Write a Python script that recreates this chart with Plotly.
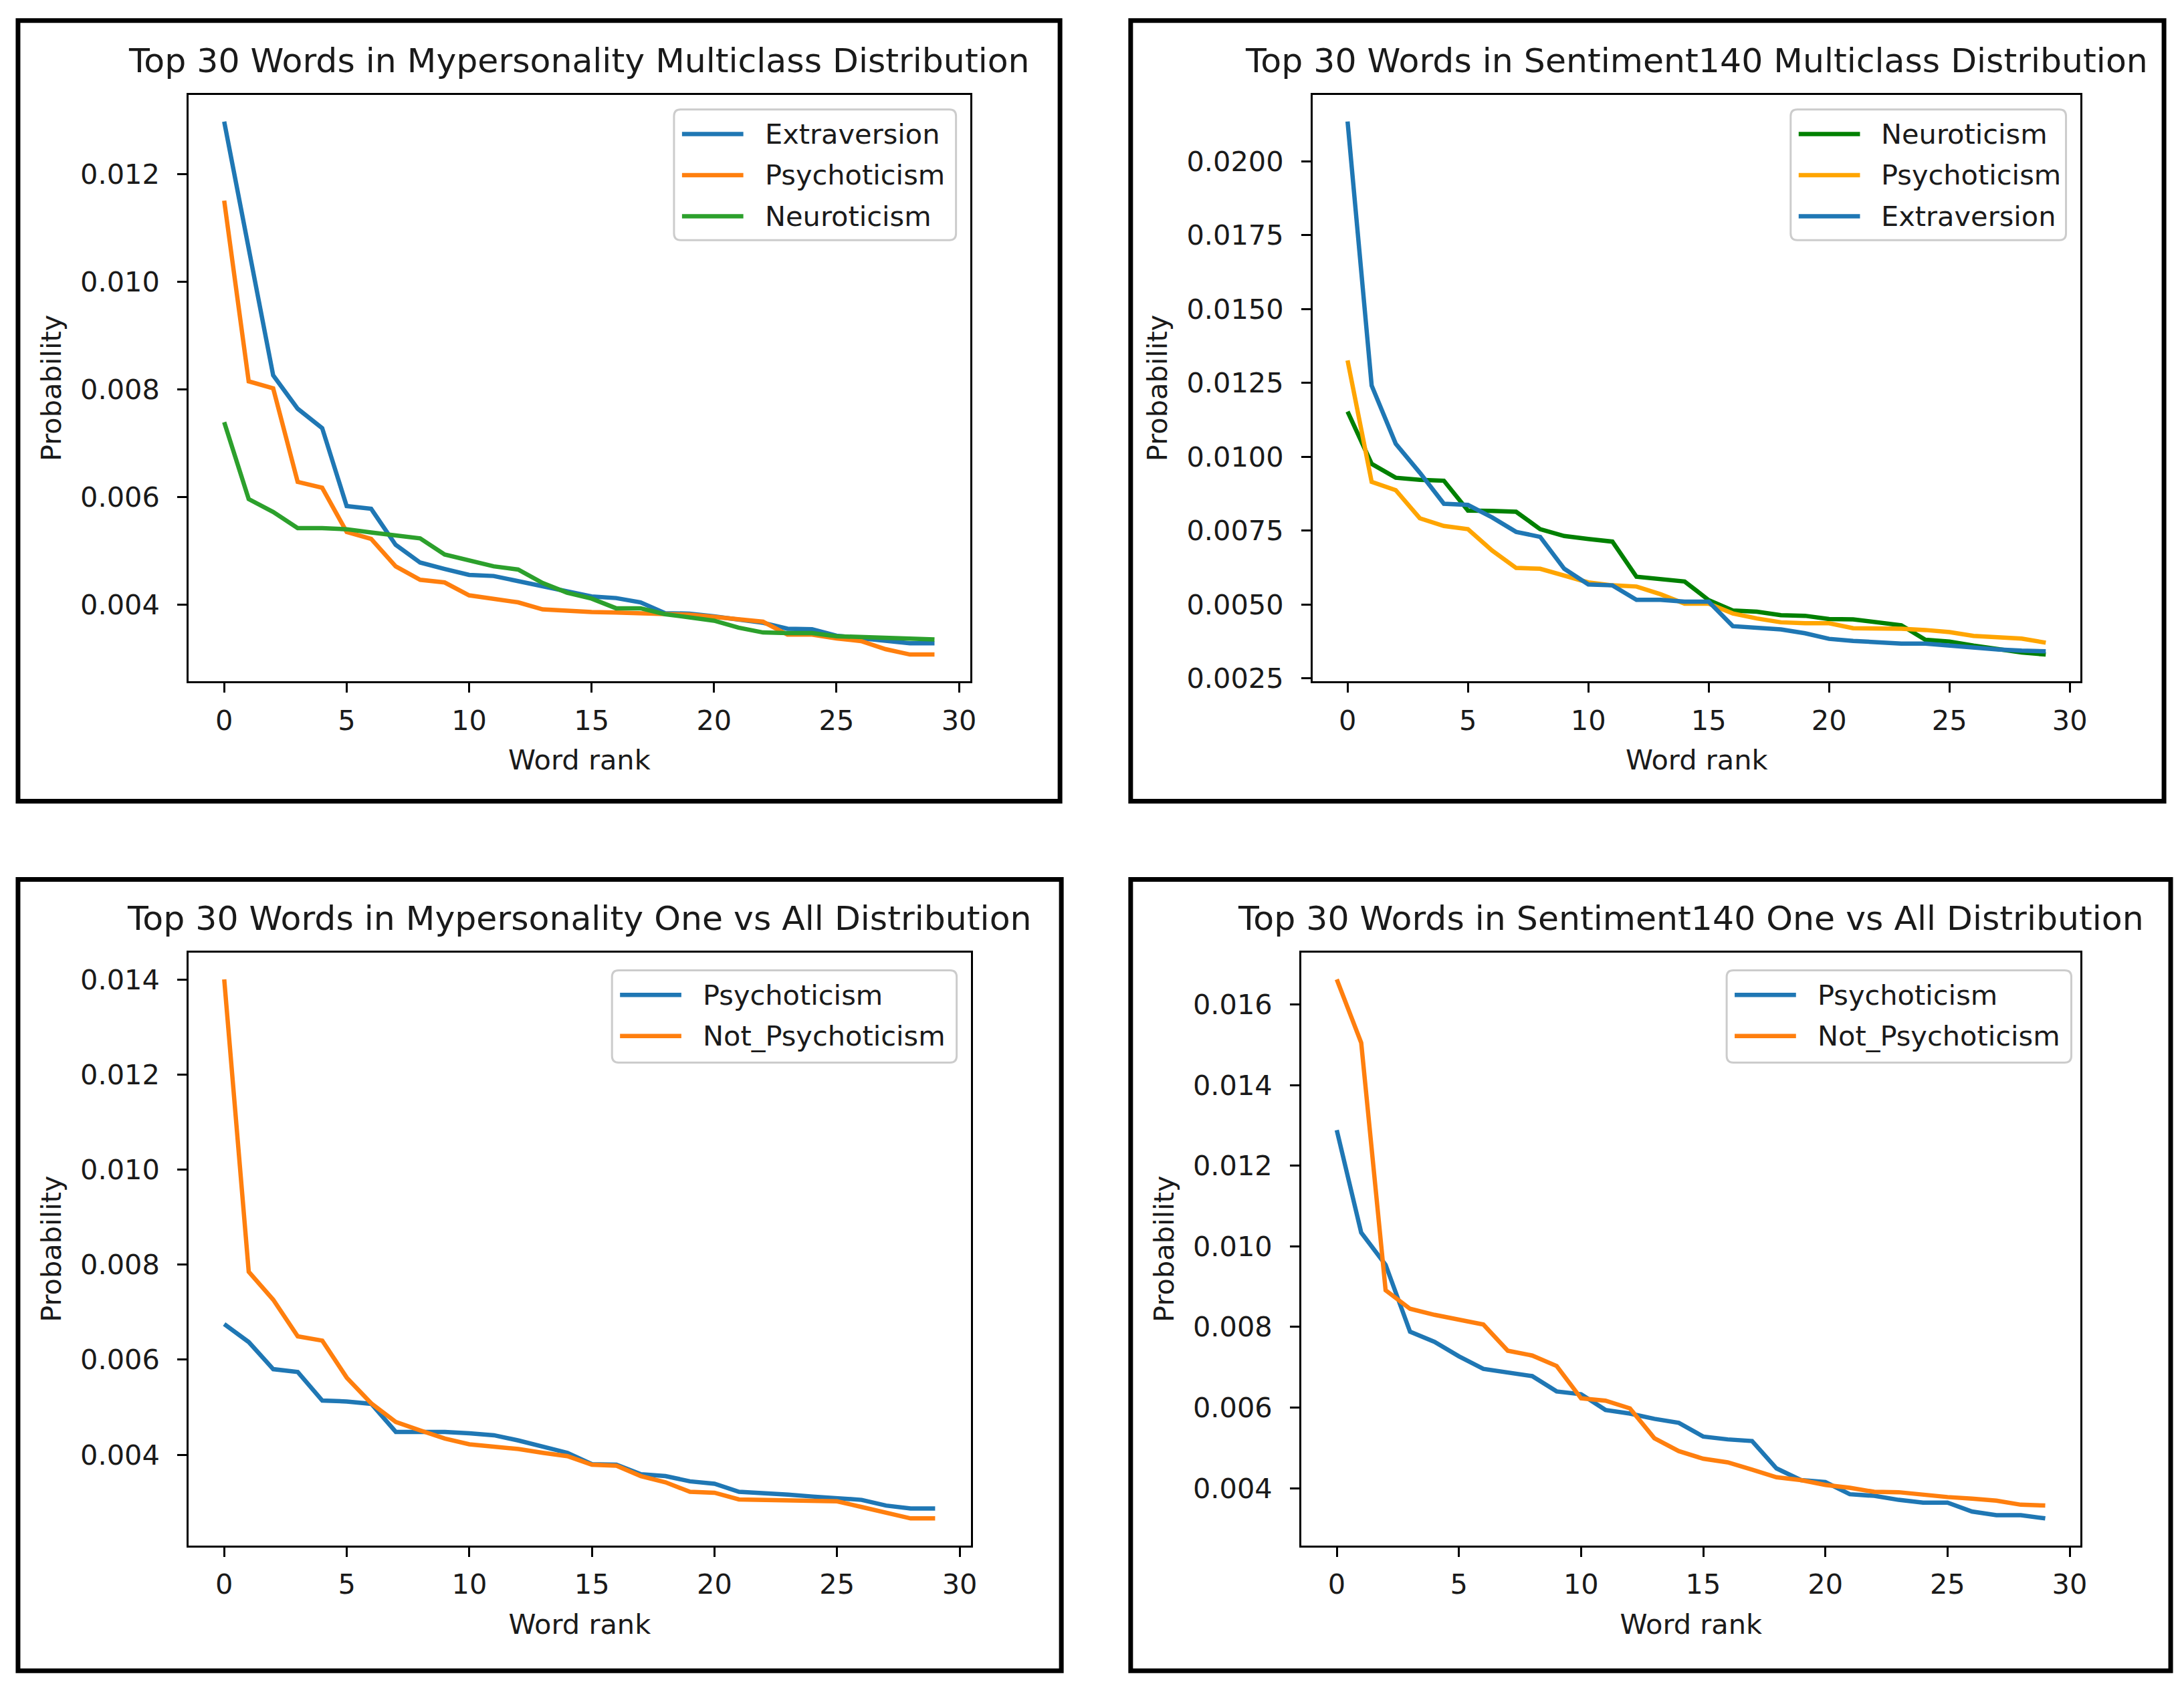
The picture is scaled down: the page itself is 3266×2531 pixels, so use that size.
import plotly.graph_objects as go

# ---------------- data ----------------
rank = list(range(30))
x_ticks = [0, 5, 10, 15, 20, 25, 30]

titles = [
    "Top 30 Words in Mypersonality Multiclass Distribution",
    "Top 30 Words in Sentiment140 Multiclass Distribution",
    "Top 30 Words in Mypersonality One vs All Distribution",
    "Top 30 Words in Sentiment140 One vs All Distribution",
]
x_label = "Word rank"
y_label = "Probability"

# Panel 1: Mypersonality multiclass
mp_extraversion = [0.01298, 0.01060, 0.00826, 0.00764, 0.00728, 0.00583, 0.00578, 0.00511, 0.00478, 0.00466,
                   0.00455, 0.00453, 0.00444, 0.00435, 0.00424, 0.00415, 0.00412, 0.00404, 0.00384, 0.00383,
                   0.00378, 0.00373, 0.00366, 0.00355, 0.00354, 0.00342, 0.00337, 0.00333, 0.00328, 0.00328]
mp_psychoticism = [0.01151, 0.00815, 0.00802, 0.00628, 0.00617, 0.00535, 0.00522, 0.00471, 0.00446, 0.00441,
                   0.00417, 0.00410, 0.00404, 0.00391, 0.00388, 0.00386, 0.00385, 0.00384, 0.00383, 0.00381,
                   0.00377, 0.00373, 0.00368, 0.00344, 0.00344, 0.00337, 0.00332, 0.00317, 0.00307, 0.00307]
mp_neuroticism = [0.00739, 0.00596, 0.00572, 0.00542, 0.00542, 0.00540, 0.00534, 0.00529, 0.00523, 0.00493,
                  0.00482, 0.00471, 0.00465, 0.00440, 0.00422, 0.00411, 0.00393, 0.00393, 0.00382, 0.00377,
                  0.00370, 0.00357, 0.00348, 0.00347, 0.00347, 0.00341, 0.00339, 0.00337, 0.00336, 0.00335]

# Panel 2: Sentiment140 multiclass
s140_neuroticism = [0.01153, 0.00976, 0.00929, 0.00922, 0.00919, 0.00818, 0.00817, 0.00814, 0.00755, 0.00732,
                    0.00722, 0.00713, 0.00594, 0.00587, 0.00578, 0.00515, 0.00480, 0.00476, 0.00464, 0.00462,
                    0.00451, 0.00450, 0.00440, 0.00430, 0.00381, 0.00375, 0.00361, 0.00348, 0.00338, 0.00331]
s140_psychoticism = [0.01326, 0.00915, 0.00887, 0.00792, 0.00766, 0.00755, 0.00683, 0.00624, 0.00621, 0.00598,
                     0.00575, 0.00565, 0.00561, 0.00535, 0.00503, 0.00503, 0.00470, 0.00453, 0.00440, 0.00437,
                     0.00437, 0.00420, 0.00420, 0.00418, 0.00414, 0.00407, 0.00394, 0.00388, 0.00385, 0.00371]
s140_extraversion = [0.02134, 0.01241, 0.01044, 0.00946, 0.00841, 0.00837, 0.00795, 0.00746, 0.00729, 0.00621,
                     0.00568, 0.00565, 0.00516, 0.00516, 0.00510, 0.00510, 0.00427, 0.00420, 0.00416, 0.00403,
                     0.00384, 0.00377, 0.00372, 0.00368, 0.00368, 0.00361, 0.00355, 0.00348, 0.00344, 0.00342]

# Panel 3: Mypersonality one vs all
ova_mp_psychoticism = [0.00675, 0.00637, 0.00580, 0.00574, 0.00514, 0.00512, 0.00507, 0.00448, 0.00448, 0.00448,
                       0.00445, 0.00441, 0.00430, 0.00418, 0.00404, 0.00380, 0.00379, 0.00359, 0.00355, 0.00344,
                       0.00339, 0.00322, 0.00320, 0.00316, 0.00312, 0.00309, 0.00305, 0.00293, 0.00287, 0.00287]
ova_mp_not_psychoticism = [0.01400, 0.00785, 0.00726, 0.00649, 0.00640, 0.00562, 0.00508, 0.00469, 0.00451, 0.00434,
                           0.00422, 0.00418, 0.00412, 0.00404, 0.00397, 0.00379, 0.00377, 0.00355, 0.00342, 0.00322,
                           0.00320, 0.00306, 0.00305, 0.00305, 0.00304, 0.00302, 0.00290, 0.00277, 0.00266, 0.00266]

# Panel 4: Sentiment140 one vs all
ova_s140_psychoticism = [0.01288, 0.01034, 0.00954, 0.00788, 0.00763, 0.00727, 0.00696, 0.00686, 0.00678, 0.00640,
                         0.00633, 0.00594, 0.00585, 0.00572, 0.00562, 0.00528, 0.00521, 0.00517, 0.00449, 0.00420,
                         0.00415, 0.00385, 0.00381, 0.00371, 0.00364, 0.00364, 0.00342, 0.00333, 0.00333, 0.00325]
ova_s140_not_psychoticism = [0.01662, 0.01505, 0.00891, 0.00845, 0.00830, 0.00819, 0.00806, 0.00741, 0.00729, 0.00703,
                             0.00623, 0.00617, 0.00598, 0.00524, 0.00492, 0.00473, 0.00464, 0.00446, 0.00427, 0.00420,
                             0.00408, 0.00401, 0.00391, 0.00390, 0.00383, 0.00378, 0.00374, 0.00369, 0.00359, 0.00357]

# ---------------- styling / layout ----------------
W, H = 3266, 2531
FONT = "DejaVu Sans"
TC = "#1a1a1a"
FS = 41.5      # tick / label / legend text
FS_TITLE = 50.5

C_BLUE = "#1f77b4"
C_ORANGE = "#ff7f0e"
C_GREEN = "#2ca02c"
C_DKGREEN = "#008000"
C_GOLD = "#ffa500"


def px(x):
    return x / W


def py(y):
    return 1 - y / H


# plot areas in page pixels: (left, right, top, bottom)
areas = [
    (275, 1447, 135, 1019),
    (1961, 3113, 135, 1019),
    (275, 1448, 1428, 2322),
    (1944, 3113, 1428, 2322),
]
# outer frames (left, right, top, bottom)
frames = [
    (19, 1582, 23, 1200),
    (1688, 3238, 23, 1200),
    (19, 1584, 1318, 2511),
    (1688, 3248, 1318, 2511),
]
# legend boxes (left, right, top, bottom)
legend_boxes = [
    (1003, 1426, 157, 354),
    (2678, 3091, 157, 354),
    (910, 1427, 1455, 1594),
    (2582, 3099, 1455, 1594),
]

panels = [
    [("Extraversion", mp_extraversion, C_BLUE),
     ("Psychoticism", mp_psychoticism, C_ORANGE),
     ("Neuroticism", mp_neuroticism, C_GREEN)],
    [("Neuroticism", s140_neuroticism, C_DKGREEN),
     ("Psychoticism", s140_psychoticism, C_GOLD),
     ("Extraversion", s140_extraversion, C_BLUE)],
    [("Psychoticism", ova_mp_psychoticism, C_BLUE),
     ("Not_Psychoticism", ova_mp_not_psychoticism, C_ORANGE)],
    [("Psychoticism", ova_s140_psychoticism, C_BLUE),
     ("Not_Psychoticism", ova_s140_not_psychoticism, C_ORANGE)],
]
y_dticks = [0.002, 0.0025, 0.002, 0.002]
y_formats = [".3f", ".4f", ".3f", ".3f"]


def rounded_rect_path(l, r, t, b, rad):
    x0, x1 = px(l), px(r)
    y0, y1 = py(t), py(b)
    rx, ry = rad / W, rad / H
    return (f"M {x0 + rx},{y0} L {x1 - rx},{y0} Q {x1},{y0} {x1},{y0 - ry} "
            f"L {x1},{y1 + ry} Q {x1},{y1} {x1 - rx},{y1} L {x0 + rx},{y1} "
            f"Q {x0},{y1} {x0},{y1 + ry} L {x0},{y0 - ry} Q {x0},{y0} {x0 + rx},{y0} Z")


fig = go.Figure()
layout = dict(
    width=W, height=H, autosize=False,
    margin=dict(l=0, r=0, t=0, b=0),
    paper_bgcolor="white", plot_bgcolor="white",
    font=dict(family=FONT, size=FS, color=TC),
    showlegend=False,
    annotations=[], shapes=[],
)

for i, series in enumerate(panels):
    n = "" if i == 0 else str(i + 1)
    xa, ya = "x" + n, "y" + n
    for name, vals, col in series:
        fig.add_trace(go.Scatter(
            x=rank, y=vals, name=name, mode="lines",
            line=dict(color=col, width=6.5),
            xaxis=xa, yaxis=ya, showlegend=False,
        ))
    all_vals = [v for _, vals, _ in series for v in vals]
    lo, hi = min(all_vals), max(all_vals)
    m = 0.05 * (hi - lo)
    xm = 0.05 * (rank[-1] - rank[0])
    l, r, t, b = areas[i]
    axis_common = dict(
        showline=True, linecolor="black", linewidth=3, mirror=True,
        ticks="outside", ticklen=14, tickwidth=3, tickcolor="black",
        showgrid=False, zeroline=False,
        tickfont=dict(family=FONT, size=FS, color=TC),
    )
    layout["xaxis" + n] = dict(
        axis_common, domain=[px(l), px(r)], anchor=ya,
        range=[rank[0] - xm, rank[-1] + xm], tickvals=x_ticks,
        ticklabelstandoff=6,
        title=dict(text=x_label, font=dict(family=FONT, size=FS, color=TC), standoff=22),
    )
    layout["yaxis" + n] = dict(
        axis_common, domain=[py(b), py(t)], anchor=xa,
        range=[lo - m, hi + m], dtick=y_dticks[i], tick0=0, tickformat=y_formats[i],
        ticklabelstandoff=18,
        title=dict(text=y_label, font=dict(family=FONT, size=FS, color=TC), standoff=16),
    )
    # title
    layout["annotations"].append(dict(
        text=titles[i], xref="paper", yref="paper",
        x=px((l + r) / 2), y=py(t - 52), xanchor="center", yanchor="middle",
        showarrow=False, font=dict(family=FONT, size=FS_TITLE, color=TC),
    ))
    # legend (matplotlib-style box with long line handles)
    bl, br, bt, bb = legend_boxes[i]
    layout["shapes"].append(dict(
        type="path", xref="paper", yref="paper",
        path=rounded_rect_path(bl, br, bt, bb, 10),
        line=dict(color="#cccccc", width=3), fillcolor="rgba(255,255,255,0.8)",
    ))
    for k, (name, _, col) in enumerate(series):
        row_y = bt + 37 + 62 * k
        layout["shapes"].append(dict(
            type="line", xref="paper", yref="paper",
            x0=px(bl + 12), x1=px(bl + 104), y0=py(row_y), y1=py(row_y),
            line=dict(color=col, width=6.5),
        ))
        layout["annotations"].append(dict(
            text=name, xref="paper", yref="paper",
            x=px(bl + 134), y=py(row_y), xanchor="left", yanchor="middle",
            showarrow=False, font=dict(family=FONT, size=FS, color=TC),
        ))
    # outer frame
    fl, fr, ft, fb = frames[i]
    layout["shapes"].append(dict(
        type="rect", xref="paper", yref="paper",
        x0=px(fl), x1=px(fr), y0=py(fb), y1=py(ft),
        line=dict(color="black", width=7), fillcolor="rgba(0,0,0,0)",
    ))

fig.update_layout(**layout)
fig.write_html("out.html")
